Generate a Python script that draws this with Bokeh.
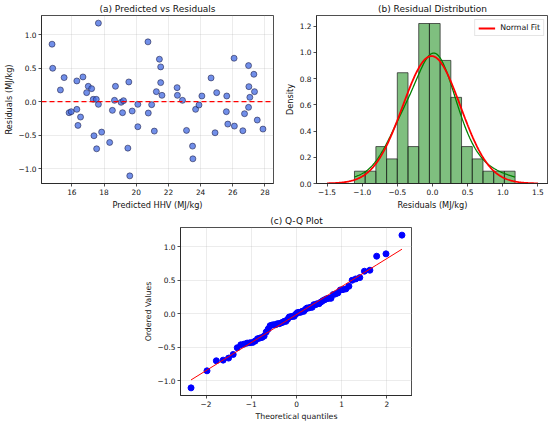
import numpy as np
from statistics import NormalDist
from bokeh.plotting import figure
from bokeh.layouts import column, row, Spacer
from bokeh.models import Span, Legend, LegendItem, FixedTicker, Range1d
from bokeh.embed import file_html
from bokeh.resources import INLINE

# ---------------- data ----------------
predicted_hhv = [14.77, 14.81, 15.29, 15.52, 15.83, 15.96, 16.31, 16.31, 16.38, 16.54,
                 16.69, 16.92, 17.02, 17.23, 17.33, 17.375, 17.52, 17.54, 17.65, 17.65,
                 17.85, 18.35, 18.52, 18.65, 18.71, 19.06, 19.15, 19.21, 19.48, 19.54,
                 19.60, 19.75, 20.10, 20.10, 20.73, 20.75, 20.96, 21.125, 21.25, 21.44,
                 21.52, 21.52, 21.60, 22.54, 22.56, 22.875, 23.125, 23.50, 23.52, 23.69,
                 23.90, 24.08, 24.65, 24.90, 25.00, 25.625, 25.60, 25.69, 26.08, 26.10,
                 26.625, 26.73, 26.98, 26.98, 27.00, 27.06, 27.31, 27.35, 27.52, 27.875]
residuals = [0.86, 0.50, 0.175, 0.36, -0.165, -0.15, 0.31, -0.115, -0.355, -0.23,
             0.37, 0.135, 0.23, 0.195, 0.035, -0.51, 0.035, -0.705, 1.175, -0.04,
             -0.455, -0.61, -0.13, 0.02, 0.23, -0.01, -0.165, 0.015, -0.695, 0.295,
             -1.11, -0.14, -0.04, -0.375, 0.895, -0.17, -0.045, -0.44, 0.15, 0.635,
             0.52, 0.285, 0.095, 0.21, 0.095, 0.02, -0.43, -0.665, -0.855, -0.115,
             -0.05, 0.085, 0.355, -0.465, 0.135, 0.085, -0.15, -0.335, 0.65, -0.365,
             -0.435, -0.18, 0.54, -0.085, 0.225, 0.065, 0.41, 0.15, -0.275, -0.41]

a_xticks = [16, 18, 20, 22, 24, 26, 28]
a_yticks = [-1.0, -0.5, 0.0, 0.5, 1.0]
a_ytick_labels = ["\u22121.0", "\u22120.5", "0.0", "0.5", "1.0"]
b_xticks = [-1.5, -1.0, -0.5, 0.0, 0.5, 1.0, 1.5]
b_xtick_labels = ["\u22121.5", "\u22121.0", "\u22120.5", "0.0", "0.5", "1.0", "1.5"]
b_yticks = [0.0, 0.2, 0.4, 0.6, 0.8, 1.0, 1.2]
b_ytick_labels = ["0.0", "0.2", "0.4", "0.6", "0.8", "1.0", "1.2"]
c_xticks = [-2, -1, 0, 1, 2]
c_xtick_labels = ["\u22122", "\u22121", "0", "1", "2"]
c_yticks = a_yticks
c_ytick_labels = a_ytick_labels
hist_bins = 15
normal_fit_domain = (-1.5, 1.5)

FONT = "DejaVu Sans"
TXT = "#111111"


def style(p, xlabel, ylabel, xticks, xlabels, yticks, ylabels, grid=True, label_size="8.2px"):
    p.title.text_font = FONT
    p.title.text_font_size = "9px"
    p.title.text_font_style = "normal"
    p.title.text_color = TXT
    p.title.align = "center"
    p.title.offset = 0
    p.title.standoff = 3
    p.outline_line_color = "#222222"
    p.outline_line_width = 0.8
    for ax, lab, ticks, labels in ((p.xaxis[0], xlabel, xticks, xlabels),
                                   (p.yaxis[0], ylabel, yticks, ylabels)):
        ax.axis_label = lab
        ax.axis_label_text_font = FONT
        ax.axis_label_text_font_size = label_size
        ax.axis_label_text_font_style = "normal"
        ax.axis_label_text_color = TXT
        ax.axis_label_standoff = 2
        ax.major_label_text_font = FONT
        ax.major_label_text_font_size = "7.4px"
        ax.major_label_text_color = TXT
        ax.major_label_standoff = 2
        ax.major_tick_out = 3
        ax.major_tick_in = 0
        ax.minor_tick_out = 0
        ax.minor_tick_in = 0
        ax.axis_line_color = "#222222"
        ax.axis_line_width = 0.8
        ax.major_tick_line_color = "#222222"
        ax.major_tick_line_width = 0.8
        ax.ticker = FixedTicker(ticks=ticks)
        if labels is not None:
            ax.major_label_overrides = {float(t): l for t, l in zip(ticks, labels)}
    if grid:
        p.grid.grid_line_color = "#b0b0b0"
        p.grid.grid_line_alpha = 0.3
        p.grid.grid_line_width = 0.8
    else:
        p.grid.grid_line_color = None


res = np.array(residuals)
pred = np.array(predicted_hhv)
n = len(res)


def padded(lo, hi, frac=0.05):
    d = (hi - lo) * frac
    return Range1d(lo - d, hi + d)


# ---------------- (a) ----------------
pa = figure(frame_width=232, frame_height=168, output_backend="svg", toolbar_location=None,
            title="(a) Predicted vs Residuals",
            x_range=padded(pred.min(), pred.max()), y_range=padded(res.min(), res.max()),
            min_border_left=0, min_border_right=8, min_border_top=0, min_border_bottom=0)
style(pa, "Predicted HHV (MJ/kg)", "Residuals (MJ/kg)", a_xticks, None,
      a_yticks, a_ytick_labels)
pa.scatter(pred, res, size=6, fill_color="royalblue", fill_alpha=0.75,
           line_color="#1a1a40", line_alpha=0.8, line_width=0.7)
pa.add_layout(Span(location=0, dimension="width", line_color="red",
                   line_dash="5 3", line_width=1.4))

# ---------------- (b) ----------------
counts, edges = np.histogram(res, bins=hist_bins, density=True)
pb = figure(frame_width=232, frame_height=168, output_backend="svg", toolbar_location=None,
            title="(b) Residual Distribution",
            x_range=Range1d(-1.65, 1.65), y_range=Range1d(0, counts.max() * 1.05),
            min_border_left=0, min_border_right=0, min_border_top=0, min_border_bottom=0)
style(pb, "Residuals (MJ/kg)", "Density", b_xticks, b_xtick_labels,
      b_yticks, b_ytick_labels, grid=False)
pb.quad(left=edges[:-1], right=edges[1:], bottom=0, top=counts,
        fill_color="#008000", fill_alpha=0.5, line_color="#222222", line_alpha=0.8,
        line_width=0.9)
h = res.std(ddof=1) * n ** (-1 / 5)
kx = np.linspace(res.min(), res.max(), 300)
ky = np.exp(-0.5 * ((kx[:, None] - res[None, :]) / h) ** 2).sum(axis=1) / (n * h * np.sqrt(2 * np.pi))
pb.line(kx, ky, line_color="#008000", line_width=1.3)
mu, sd = res.mean(), res.std()
nx = np.linspace(normal_fit_domain[0], normal_fit_domain[1], 300)
ny = np.exp(-0.5 * ((nx - mu) / sd) ** 2) / (sd * np.sqrt(2 * np.pi))
nl = pb.line(nx, ny, line_color="red", line_width=1.8)
leg = Legend(items=[LegendItem(label="Normal Fit", renderers=[nl])], location="top_right",
             label_text_font=FONT, label_text_font_size="7.8px", label_text_color=TXT,
             glyph_width=17, glyph_height=8, label_height=8, label_standoff=5,
             padding=3, margin=4, spacing=0, border_line_color="#cccccc",
             border_line_width=0.8, background_fill_alpha=0.85)
pb.add_layout(leg)

# ---------------- (c) ----------------
m = np.empty(n)
m[-1] = 0.5 ** (1.0 / n)
m[0] = 1 - m[-1]
idx = np.arange(2, n)
m[1:-1] = (idx - 0.3175) / (n + 0.365)
osm = np.array([NormalDist().inv_cdf(v) for v in m])
osr = np.sort(res)
slope, intercept = np.polyfit(osm, osr, 1)

pc = figure(frame_width=232, frame_height=168, output_backend="svg", toolbar_location=None,
            title="(c) Q-Q Plot",
            x_range=padded(osm.min(), osm.max()), y_range=padded(osr.min(), osr.max()),
            min_border_left=0, min_border_right=0, min_border_top=14, min_border_bottom=0)
style(pc, "Theoretical quantiles", "Ordered Values", c_xticks, c_xtick_labels,
      c_yticks, c_ytick_labels, label_size="7.8px")
pc.scatter(osm, osr, size=6, fill_color="#0000ff", line_color="#0000ff")
pc.line(osm, slope * osm + intercept, line_color="red", line_width=1)

layout = column(row(pa, pb), row(Spacer(width=140), pc))

with open("out.html", "w") as f:
    f.write(file_html(layout, INLINE))
